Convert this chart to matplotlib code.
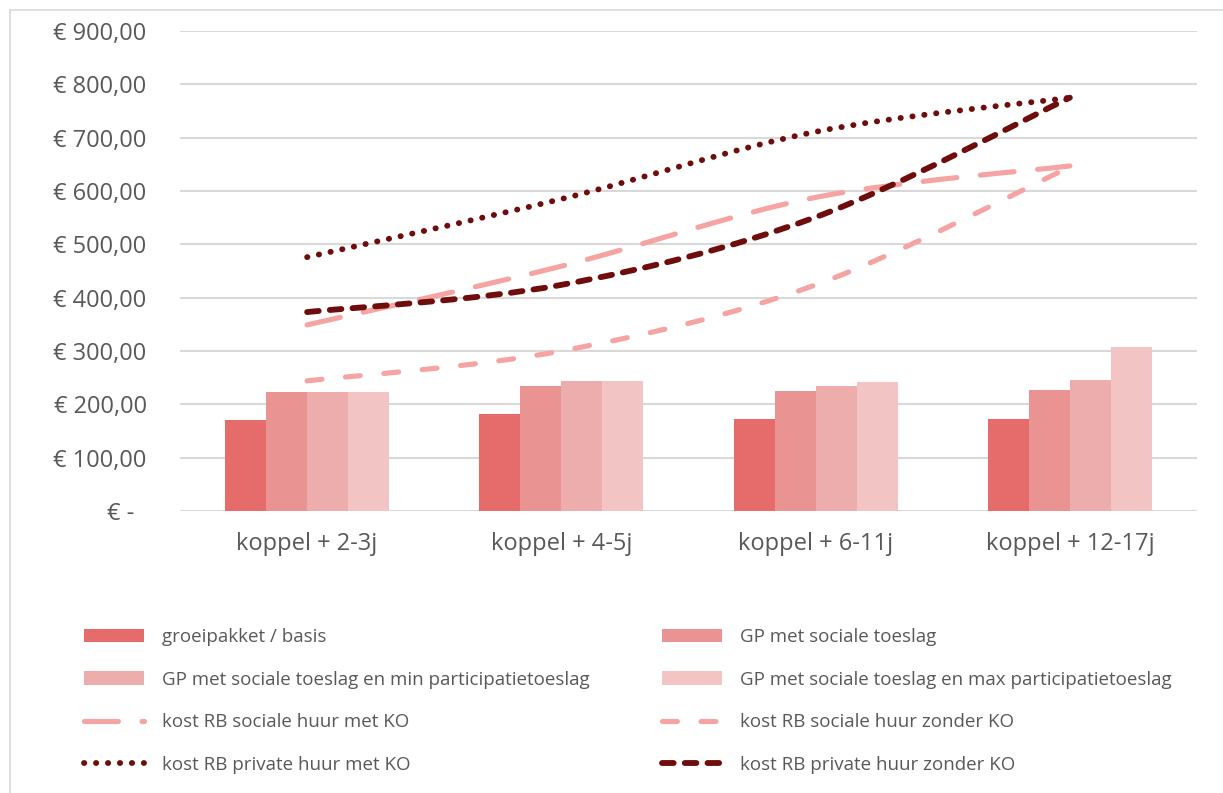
import matplotlib
matplotlib.use("Agg")
import matplotlib.pyplot as plt
from matplotlib.path import Path
from matplotlib.patches import PathPatch
from matplotlib.lines import Line2D
from matplotlib.ticker import FuncFormatter, FixedLocator
import numpy as np

# ---- data -------------------------------------------------------------
categories = ["koppel + 2-3j", "koppel + 4-5j", "koppel + 6-11j", "koppel + 12-17j"]

gp_basis = [171, 182, 172, 173]
gp_sociaal = [223, 235, 225, 226]
gp_min_part = [223, 244, 235, 246]
gp_max_part = [223, 244, 241, 307]

rb_sociaal_met_ko = [349, 459, 588, 647]
rb_sociaal_zonder_ko = [244, 300, 424, 645]
rb_privaat_met_ko = [476, 585, 711, 775]
rb_privaat_zonder_ko = [373, 424, 551, 775]

y_ticks = [0, 100, 200, 300, 400, 500, 600, 700, 800, 900]

# ---- style ------------------------------------------------------------
W, H = 1223, 793
TEXT = "#595959"
GRID = "#d9d9d9"
BAR_COLORS = ["#E66C6C", "#EA9393", "#EEADAD", "#F2C5C4"]
PINK = "#F5A3A3"
DARK = "#6F0C0C"

plt.rcParams["font.family"] = ["Open Sans", "DejaVu Sans"]

fig = plt.figure(figsize=(W / 100, H / 100), dpi=100)
ax = fig.add_axes([180 / W, 1 - 511 / H, (1197 - 180) / W, (511 - 31) / H])

x = np.arange(len(categories))
bw = 0.1615
bar_series = [
    ("groeipakket / basis", gp_basis),
    ("GP met sociale toeslag", gp_sociaal),
    ("GP met sociale toeslag en min participatietoeslag", gp_min_part),
    ("GP met sociale toeslag en max participatietoeslag", gp_max_part),
]
bar_handles = []
for i, (label, vals) in enumerate(bar_series):
    bars = ax.bar(x + (i - 1.5) * bw, vals, width=bw, color=BAR_COLORS[i],
                  label=label, zorder=2, linewidth=0)
    bar_handles.append(bars)


def smooth_path(xs, ys):
    """Cubic Bezier path through the points (Catmull-Rom style tangents)."""
    pts = np.column_stack([xs, ys]).astype(float)
    n = len(pts)
    verts = [pts[0]]
    codes = [Path.MOVETO]
    for i in range(n - 1):
        p0 = pts[i - 1] if i > 0 else pts[i]
        p1, p2 = pts[i], pts[i + 1]
        p3 = pts[i + 2] if i + 2 < n else pts[i + 1]
        verts += [p1 + (p2 - p0) / 6, p2 - (p3 - p1) / 6, p2]
        codes += [Path.CURVE4] * 3
    return Path(verts, codes)


# label, values, colour, linewidth (pt), dash pattern (in linewidths)
line_series = [
    ("kost RB sociale huur met KO", rb_sociaal_met_ko, PINK, 3.7, (0, (6.6, 4.6))),
    ("kost RB sociale huur zonder KO", rb_sociaal_zonder_ko, PINK, 3.7, (0, (2.9, 4.6))),
    ("kost RB private huur met KO", rb_privaat_met_ko, DARK, 4.2, (0, (0.05, 2.0))),
    ("kost RB private huur zonder KO", rb_privaat_zonder_ko, DARK, 4.2, (0, (2.0, 1.9))),
]
line_handles = []
for label, vals, color, lw, ls in line_series:
    patch = PathPatch(smooth_path(x, vals), facecolor="none", edgecolor=color,
                      linewidth=lw, linestyle=ls, capstyle="round",
                      joinstyle="round", zorder=3)
    ax.add_patch(patch)
    line_handles.append(Line2D([], [], color=color, linewidth=lw, linestyle=ls,
                               dash_capstyle="round", solid_capstyle="round"))

# ---- axes -------------------------------------------------------------
ax.set_xlim(-0.5, len(categories) - 0.5)
ax.set_ylim(0, 900)
ax.set_xticks(x)
ax.set_xticklabels(categories)
ax.yaxis.set_major_locator(FixedLocator(y_ticks))


def euro(v, _pos):
    if v == 0:
        return "€ -  "
    s = f"{v:,.2f}".replace(",", "X").replace(".", ",").replace("X", ".")
    return f"€ {s}"


ax.yaxis.set_major_formatter(FuncFormatter(euro))
ax.tick_params(axis="y", length=0, pad=24, labelsize=17, labelcolor=TEXT)
ax.tick_params(axis="x", length=0, pad=15, labelsize=17, labelcolor=TEXT)
for sp in ax.spines.values():
    sp.set_visible(False)
ax.yaxis.grid(True, color=GRID, linewidth=1.5, zorder=0)
ax.set_axisbelow(True)

# ---- legend (two columns) ----------------------------------------------
col1 = [bar_handles[0], bar_handles[2], line_handles[0], line_handles[2]]
lab1 = [bar_series[0][0], bar_series[2][0], line_series[0][0], line_series[2][0]]
col2 = [bar_handles[1], bar_handles[3], line_handles[1], line_handles[3]]
lab2 = [bar_series[1][0], bar_series[3][0], line_series[1][0], line_series[3][0]]

leg_kw = dict(loc="upper left", frameon=False, fontsize=13.5, borderpad=0,
              borderaxespad=0, handlelength=3.2, handletextpad=0.95,
              labelspacing=1.31, labelcolor=TEXT)
fig.legend(col1, lab1, bbox_to_anchor=(84 / W, 1 - 628 / H), **leg_kw)
fig.legend(col2, lab2, bbox_to_anchor=(662 / W, 1 - 628 / H), **leg_kw)

# ---- chart frame --------------------------------------------------------
fig.add_artist(Line2D([10 / W, 10 / W], [0, 1 - 10 / H], color=GRID, linewidth=1.2))
fig.add_artist(Line2D([10 / W, 1], [1 - 10 / H, 1 - 10 / H], color=GRID, linewidth=1.2))

fig.savefig("out.png", dpi=100, facecolor="white")
